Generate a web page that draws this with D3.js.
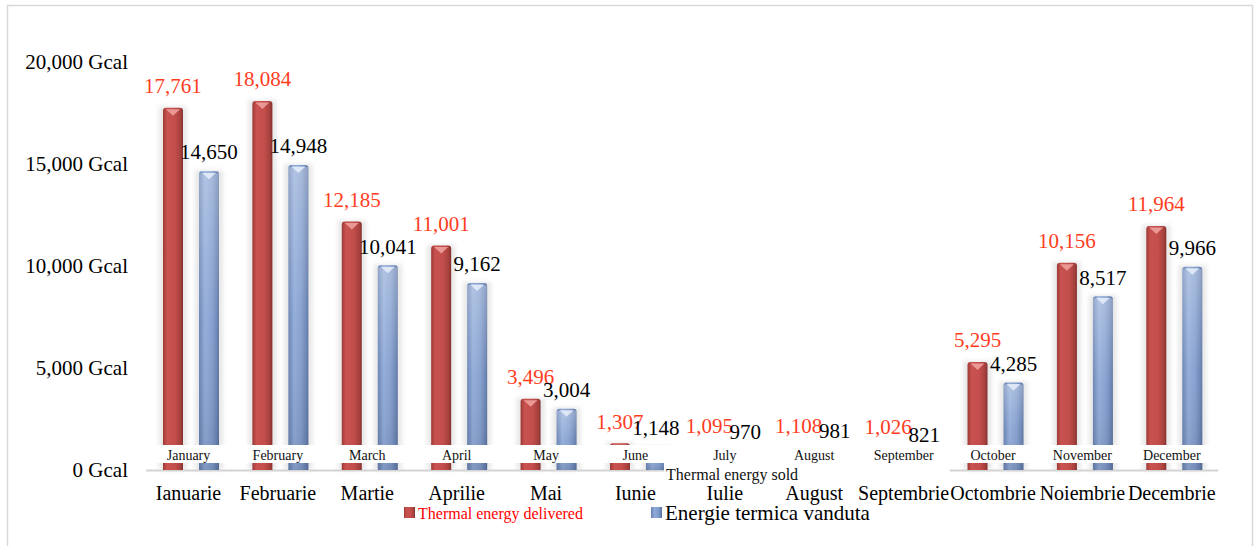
<!DOCTYPE html>
<html><head><meta charset="utf-8">
<script src="https://cdn.jsdelivr.net/npm/d3@7"></script>
<style>html,body{margin:0;padding:0;background:#fff;}svg{display:block;}</style>
</head><body>
<svg id="c" width="1260" height="546"></svg>
<script>
const monthsRo = ["Ianuarie","Februarie","Martie","Aprilie","Mai","Iunie","Iulie","August","Septembrie","Octombrie","Noiembrie","Decembrie"];
const monthsEn = ["January","February","March","April","May","June","July","August","September","October","November","December"];
const delivered = [17761,18084,12185,11001,3496,1307,1095,1108,1026,5295,10156,11964];
const sold = [14650,14948,10041,9162,3004,1148,970,981,821,4285,8517,9966];
const yTicks = [0,5000,10000,15000,20000];
const seriesNames = ["Thermal energy delivered","Energie termica vanduta"];
const overlayText = "Thermal energy sold";

const svg = d3.select("#c");
const serif = "'Liberation Serif','Times New Roman',serif";

// border
svg.append("rect").attr("x",7.5).attr("y",5.5).attr("width",1245).attr("height",560)
  .attr("fill","#fff").attr("stroke","#d9d9d9").attr("stroke-width",1.5);

const defs = svg.append("defs");
function hGrad(id, stops){
  const g = defs.append("linearGradient").attr("id",id).attr("x1","0").attr("x2","1").attr("y1","0").attr("y2","0");
  stops.forEach(s=>g.append("stop").attr("offset",s[0]).attr("stop-color",s[1]));
}
hGrad("gRed",[[0,"#9c3936"],[0.2,"#c8524f"],[0.6,"#c34e4b"],[0.88,"#a5403d"],[1,"#83302e"]]);
hGrad("gBlue",[[0,"#6580b2"],[0.3,"#90abd8"],[0.65,"#819dcd"],[0.9,"#6882b3"],[1,"#566f9e"]]);
const vb = defs.append("linearGradient").attr("id","gBlueV").attr("x1","0").attr("x2","0").attr("y1","0").attr("y2","1");
vb.append("stop").attr("offset",0).attr("stop-color","#ffffff").attr("stop-opacity",0.3);
vb.append("stop").attr("offset",0.5).attr("stop-color","#ffffff").attr("stop-opacity",0.05);
vb.append("stop").attr("offset",1).attr("stop-color","#000000").attr("stop-opacity",0.1);
defs.append("filter").attr("id","blur").attr("x","-50%").attr("y","-5%").attr("width","200%").attr("height","110%")
  .append("feGaussianBlur").attr("stdDeviation",2);

const x = d3.scaleBand().domain(monthsRo).range([146.3,1219]);
const y = d3.scaleLinear().domain([0,20000]).range([470,62]);
const bw = 20, off = 18, labShift = -2.5;
const cx0 = m => x(m)+x.bandwidth()/2;

const series = [
  {vals: delivered, fill:"url(#gRed)", cap:"#f4aaa8", dx:-off, lab:"#ff3d1e", ldy:-22},
  {vals: sold, fill:"url(#gBlue)", cap:"#eaf1fb", dx:off, lab:"#000", ldy:-19}
];

// baseline
svg.append("line").attr("x1",146).attr("x2",1218).attr("y1",470.5).attr("y2",470.5)
  .attr("stroke","#d4d4d4").attr("stroke-width",2);

const gBars = svg.append("g");
series.forEach(s=>{
  monthsRo.forEach((m,i)=>{
    const cx = cx0(m) + s.dx;
    const top = y(s.vals[i]);
    const h = y(0)-top;
    gBars.append("rect").attr("x",cx-bw/2-4).attr("y",top-1).attr("width",bw+8).attr("height",h+1)
      .attr("fill","#d4d4d4").attr("opacity",0.55).attr("filter","url(#blur)");
    gBars.append("path").attr("d",`M${cx-bw/2},${y(0)} V${top+3} Q${cx-bw/2},${top} ${cx-bw/2+3},${top} H${cx+bw/2-3} Q${cx+bw/2},${top} ${cx+bw/2},${top+3} V${y(0)} Z`)
      .attr("fill",s.fill);
    if(s.dx>0) gBars.append("rect").attr("x",cx-bw/2).attr("y",top+2).attr("width",bw).attr("height",Math.max(0,h-2)).attr("fill","url(#gBlueV)");
    gBars.append("path").attr("d",`M${cx-bw/2+3},${top+1.5} L${cx+bw/2-3},${top+1.5} L${cx},${top+8} Z`)
      .attr("fill",s.cap).attr("opacity",0.8);
  });
});

// English month band
svg.append("rect").attr("x",145).attr("y",445).attr("width",1074).attr("height",18).attr("fill","#fff");
svg.selectAll(".en").data(monthsEn).join("text")
  .attr("x",(d,i)=>cx0(monthsRo[i])+labShift).attr("y",455).attr("dy","0.35em")
  .attr("text-anchor","middle").attr("font-family",serif).attr("font-size",14).attr("fill","#111").text(d=>d);

// overlay white box with text
svg.append("rect").attr("x",664).attr("y",463).attr("width",286).attr("height",19).attr("fill","#fff");
svg.append("text").attr("x",666).attr("y",474).attr("dy","0.35em").attr("font-family",serif).attr("font-size",16)
  .attr("fill","#111").text(overlayText);

// value labels
series.forEach(s=>{
  svg.append("g").selectAll("text").data(s.vals).join("text")
    .attr("x",(d,i)=>cx0(monthsRo[i])+s.dx).attr("y",d=>y(d)+s.ldy).attr("dy","0.35em")
    .attr("text-anchor","middle").attr("font-family",serif).attr("font-size",21).attr("fill",s.lab)
    .text(d=>d3.format(",")(d));
});

// y axis labels
svg.append("g").selectAll("text").data(yTicks).join("text")
  .attr("x",128).attr("y",d=>y(d)).attr("dy","0.35em").attr("text-anchor","end")
  .attr("font-family",serif).attr("font-size",21).attr("fill","#000")
  .text(d=>d3.format(",")(d)+" Gcal");

// Romanian x labels
svg.append("g").selectAll("text").data(monthsRo).join("text")
  .attr("x",d=>cx0(d)+labShift).attr("y",493).attr("dy","0.35em").attr("text-anchor","middle")
  .attr("font-family",serif).attr("font-size",20).attr("fill","#000").text(d=>d);

// legend
const lg = svg.append("g");
lg.append("rect").attr("x",404).attr("y",507).attr("width",11).attr("height",11).attr("fill","url(#gRed)");
lg.append("text").attr("x",418).attr("y",513).attr("dy","0.35em").attr("font-family",serif).attr("font-size",16)
  .attr("fill","#ff0000").text(seriesNames[0]);
lg.append("rect").attr("x",651).attr("y",507).attr("width",11).attr("height",11).attr("fill","url(#gBlue)");
lg.append("text").attr("x",665).attr("y",513).attr("dy","0.35em").attr("font-family",serif).attr("font-size",21)
  .attr("fill","#000").text(seriesNames[1]);
</script>
</body></html>
